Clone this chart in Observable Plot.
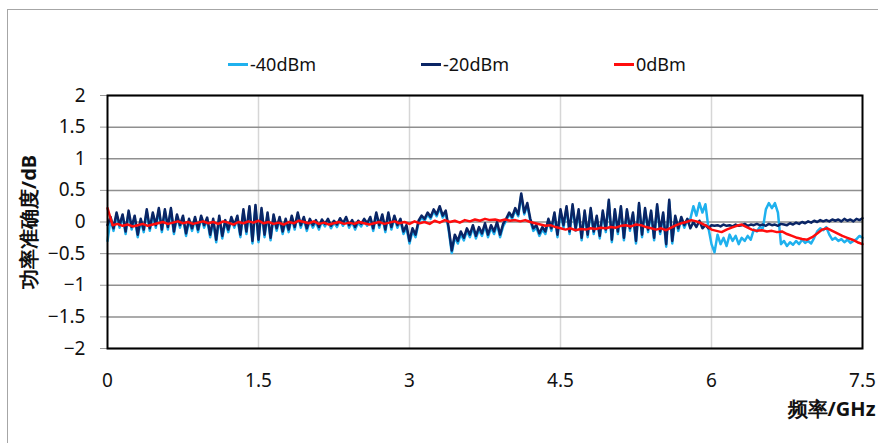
<!DOCTYPE html>
<html><head><meta charset="utf-8">
<script src="https://cdn.jsdelivr.net/npm/d3@7"></script>
<script src="https://cdn.jsdelivr.net/npm/@observablehq/plot@0.6"></script>
<style>
body{margin:0;background:#fff;font-family:"Noto Sans",sans-serif;}
#wrap{position:relative;width:878px;height:443px;overflow:hidden;}
#border{position:absolute;left:7px;top:9px;width:900px;height:460px;border:1px solid #a6a6a6;}
#legend{position:relative;height:80px;}
.item{position:absolute;top:52px;font-size:18px;line-height:24px;display:flex;align-items:center;color:#111;}
.sw{width:20px;height:3px;margin-right:2px;}
#chart{position:absolute;left:0;top:80px;}
</style></head>
<body>
<div id="wrap">
<div id="border"></div>
<div id="legend"></div>
<div id="chart"></div>
</div>
<script>
// Frequency grid steps (GHz)
const stepFine = 0.03;
const stepRed = 0.05;

// -20dBm power accuracy (dB), every 0.03 GHz from 0 to 7.5
const m20 = [
 -0.05, 0.08, -0.1, 0.15, -0.05, 0.12, -0.15, 0.18, -0.08, 0.1,
 -0.2, 0.05, -0.12, 0.2, -0.1, 0.15, -0.05, 0.22, -0.12, 0.2,
 -0.08, 0.22, -0.15, 0.12, -0.05, 0.1, -0.18, 0.05, -0.1, 0.08,
 -0.12, 0.1, -0.05, 0.07, -0.2, 0.05, -0.28, 0.1, -0.22, 0.03,
 -0.12, 0.08, -0.05, 0.1, -0.2, 0.2, -0.15, 0.25, -0.3, 0.27,
 -0.28, 0.22, -0.2, 0.15, -0.25, 0.12, -0.1, 0.08, -0.15, 0.05,
 -0.12, 0.1, -0.08, 0.15, -0.05, 0.08, -0.1, 0.05, -0.05, 0.03,
 -0.08, 0.04, -0.03, 0.05, -0.06, 0.02, -0.04, 0.06, -0.02, 0.08,
 -0.05, 0.03, -0.08, 0.02, -0.03, 0.05, -0.02, 0.08, -0.1, 0.15,
 -0.05, 0.12, -0.12, 0.15, -0.08, 0.1, -0.05, 0.05, -0.15, -0.05,
 -0.3, -0.1, -0.2, 0.02, 0.1, 0.05, 0.15, 0.08, 0.2, 0.12,
 0.25, 0.1, 0.18, -0.1, -0.45, -0.2, -0.3, -0.15, -0.25, -0.1,
 -0.2, -0.05, -0.22, -0.08, -0.18, -0.02, -0.2, -0.05, -0.15, 0.0,
 -0.2, -0.03, 0.05, 0.15, 0.08, 0.22, 0.12, 0.45, 0.15, 0.3,
 0.05, -0.1, -0.05, -0.18, -0.08, -0.15, 0.05, -0.1, 0.15, -0.2,
 0.2, -0.05, 0.25, -0.15, 0.28, -0.1, 0.2, -0.25, 0.18, -0.2,
 0.22, -0.15, 0.1, -0.22, 0.18, -0.12, 0.35, -0.28, 0.2, -0.15,
 0.25, -0.25, 0.2, -0.1, 0.15, -0.3, 0.3, -0.2, 0.22, -0.12,
 0.18, -0.25, 0.28, -0.15, 0.15, -0.35, 0.35, -0.3, 0.1, -0.1,
 0.08, -0.05, 0.05, -0.1, 0.0, -0.08, 0.02, -0.1, -0.05, -0.1,
 -0.05, -0.06, -0.05, -0.07, -0.04, -0.06, -0.05, -0.07, -0.04, -0.06,
 -0.05, -0.03, -0.06, -0.04, -0.05, -0.03, -0.05, -0.04, -0.06, -0.03,
 -0.05, -0.04, -0.06, -0.03, -0.04, -0.05, -0.02, -0.04, -0.01, -0.03,
 0.0, -0.02, 0.01, -0.01, 0.02, 0.0, 0.03, 0.01, 0.03, 0.01,
 0.04, 0.02, 0.04, 0.01, 0.05, 0.02, 0.04, 0.01, 0.05, 0.03,
 0.06
];

// -40dBm power accuracy (dB), every 0.03 GHz from 0 to 7.5
const m40 = [
 -0.3, 0.05, -0.14, 0.12, -0.09, 0.1, -0.19, 0.15, -0.12, 0.07,
 -0.24, 0.02, -0.16, 0.17, -0.14, 0.12, -0.09, 0.19, -0.16, 0.17,
 -0.12, 0.19, -0.19, 0.09, -0.09, 0.07, -0.22, 0.02, -0.14, 0.05,
 -0.16, 0.07, -0.09, 0.04, -0.24, 0.02, -0.32, 0.07, -0.26, 0.0,
 -0.16, 0.05, -0.09, 0.07, -0.24, 0.17, -0.19, 0.22, -0.34, 0.24,
 -0.32, 0.19, -0.24, 0.12, -0.29, 0.09, -0.14, 0.05, -0.19, 0.02,
 -0.16, 0.07, -0.12, 0.12, -0.09, 0.05, -0.14, 0.02, -0.09, 0.0,
 -0.12, 0.01, -0.07, 0.02, -0.1, -0.01, -0.08, 0.03, -0.06, 0.05,
 -0.09, 0.0, -0.12, -0.01, -0.07, 0.02, -0.06, 0.05, -0.14, 0.12,
 -0.09, 0.09, -0.16, 0.12, -0.12, 0.07, -0.09, 0.02, -0.19, -0.09,
 -0.34, -0.14, -0.24, -0.01, 0.07, 0.02, 0.12, 0.05, 0.17, 0.09,
 0.22, 0.07, 0.15, -0.14, -0.49, -0.24, -0.34, -0.19, -0.29, -0.14,
 -0.24, -0.09, -0.26, -0.12, -0.22, -0.06, -0.24, -0.09, -0.19, -0.04,
 -0.24, -0.07, 0.02, 0.12, 0.05, 0.19, 0.09, 0.42, 0.12, 0.27,
 0.02, -0.14, -0.09, -0.22, -0.12, -0.19, 0.02, -0.14, 0.12, -0.24,
 0.17, -0.09, 0.22, -0.19, 0.25, -0.14, 0.17, -0.29, 0.15, -0.24,
 0.19, -0.19, 0.07, -0.26, 0.15, -0.16, 0.32, -0.32, 0.17, -0.19,
 0.22, -0.29, 0.17, -0.14, 0.12, -0.34, 0.27, -0.24, 0.19, -0.16,
 0.15, -0.29, 0.25, -0.19, 0.12, -0.39, 0.32, -0.34, 0.07, -0.14,
 0.05, -0.09, 0.02, 0.05, 0.25, 0.1, 0.3, 0.15, 0.28, -0.1,
 -0.35, -0.48, -0.2, -0.35, -0.25, -0.38, -0.2, -0.3, -0.22, -0.35,
 -0.25, -0.3, -0.22, -0.28, -0.12, -0.15, -0.08, -0.1, 0.2, 0.3,
 0.22, 0.3, 0.15, -0.35, -0.3, -0.38, -0.32, -0.36, -0.3, -0.35,
 -0.28, -0.33, -0.3, -0.34, -0.25, -0.15, -0.1, -0.13, -0.08, -0.2,
 -0.28, -0.25, -0.3, -0.27, -0.32, -0.28, -0.33, -0.3, -0.27, -0.22,
 -0.25
];

// 0dBm power accuracy (dB), every 0.05 GHz from 0 to 7.5
const p0 = [
 0.22, -0.05, -0.03, -0.06, -0.04, -0.07, -0.05, -0.03, -0.06, -0.04,
 -0.02, 0.0, -0.03, -0.01, 0.01, -0.02, 0.0, -0.03, -0.01, 0.01,
 -0.02, 0.0, -0.03, 0.01, -0.01, -0.04, 0.0, -0.02, 0.01, -0.01,
 0.02, -0.02, 0.0, -0.03, -0.01, -0.04, 0.0, -0.02, 0.02, 0.0,
 -0.02, 0.01, -0.03, -0.01, -0.04, -0.02, 0.0, -0.03, -0.01, -0.03,
 0.0, -0.02, -0.04, -0.02, 0.0, -0.03, -0.01, 0.01, -0.02, 0.0,
 -0.03, 0.01, -0.02, 0.0, -0.03, 0.02, -0.01, 0.03, 0.0, 0.02,
 -0.01, 0.03, 0.01, 0.04, 0.02, 0.05, 0.03, 0.04, 0.02, 0.04,
 0.02, 0.03, 0.01, 0.03, 0.0, -0.02, -0.04, -0.06, -0.05, -0.08,
 -0.1, -0.12, -0.1, -0.13, -0.11, -0.12, -0.1, -0.11, -0.09, -0.1,
 -0.08, -0.09, -0.06, -0.05, -0.07, -0.04, -0.05, -0.08, -0.1, -0.12,
 -0.1, -0.13, -0.09, -0.05, -0.02, 0.0, 0.03, 0.01, -0.02, -0.06,
 -0.12, -0.14, -0.16, -0.12, -0.09, -0.06, -0.04, -0.08, -0.12, -0.14,
 -0.13, -0.15, -0.14, -0.16, -0.15, -0.19, -0.22, -0.25, -0.27, -0.28,
 -0.24, -0.18, -0.12, -0.1, -0.14, -0.18, -0.22, -0.25, -0.28, -0.32,
 -0.35
];

const seriesNames = ["-40dBm", "-20dBm", "0dBm"];
const seriesColors = ["#1fb1ee", "#0a2565", "#ff0d0d"];
const xTicks = [0, 1.5, 3, 4.5, 6, 7.5];
const yTicks = [-2, -1.5, -1, -0.5, 0, 0.5, 1, 1.5, 2];
const xLabel = "频率/GHz";
const yLabel = "功率准确度/dB";

const fmt = d => (d < 0 ? "\u2212" + Math.abs(d) : String(d));
const toRows = (vals, step) => vals.map((v, i) => ({f: i * step, v}));
const dataSets = [toRows(m40, stepFine), toRows(m20, stepFine), toRows(p0, stepRed)];

// Legend
const legend = document.getElementById("legend");
const legendLeft = [228, 421, 614];
seriesNames.forEach((n, i) => {
  const it = document.createElement("div");
  it.className = "item";
  it.style.left = legendLeft[i] + "px";
  it.innerHTML = `<span class="sw" style="background:${seriesColors[i]}"></span><span>${n}</span>`;
  legend.appendChild(it);
});

const chart = Plot.plot({
  width: 878,
  height: 363,
  marginLeft: 107,
  marginRight: 16,
  marginTop: 15,
  marginBottom: 95,
  x: {domain: [0, 7.5]},
  y: {domain: [-2, 2]},
  style: {fontFamily: "'Noto Sans', sans-serif", fontSize: "19px", color: "#111", background: "transparent"},
  marks: [
    Plot.ruleX(xTicks.slice(1, -1), {stroke: "#d6d6d6", strokeWidth: 1.5}),
    Plot.ruleY(yTicks, {stroke: "#8f8f8f", strokeWidth: 1.5}),
    Plot.axisY({ticks: yTicks, tickSize: 7, tickFormat: () => "", stroke: "#999", label: null}),
    Plot.axisY({ticks: yTicks, tickSize: 0, tickPadding: 22, tickFormat: fmt, label: null, fontSize: 19}),
    Plot.axisX({ticks: xTicks, tickSize: 0, tickPadding: 25, tickFormat: fmt, label: null, fontSize: 19}),
    ...dataSets.map((d, i) => Plot.line(d, {x: "f", y: "v", stroke: seriesColors[i], strokeWidth: 2.5})),
    Plot.frame({stroke: "#000", strokeWidth: 2}),
    Plot.text([yLabel], {text: d => d, frameAnchor: "left", textAnchor: "middle", dx: -78, rotate: -90, fontWeight: "bold", fontSize: 20}),
    Plot.text([xLabel], {text: d => d, frameAnchor: "bottom-right", dx: 13, dy: 67, textAnchor: "end", fontWeight: "bold", fontSize: 20})
  ]
});
document.getElementById("chart").appendChild(chart);
</script>
</body></html>
